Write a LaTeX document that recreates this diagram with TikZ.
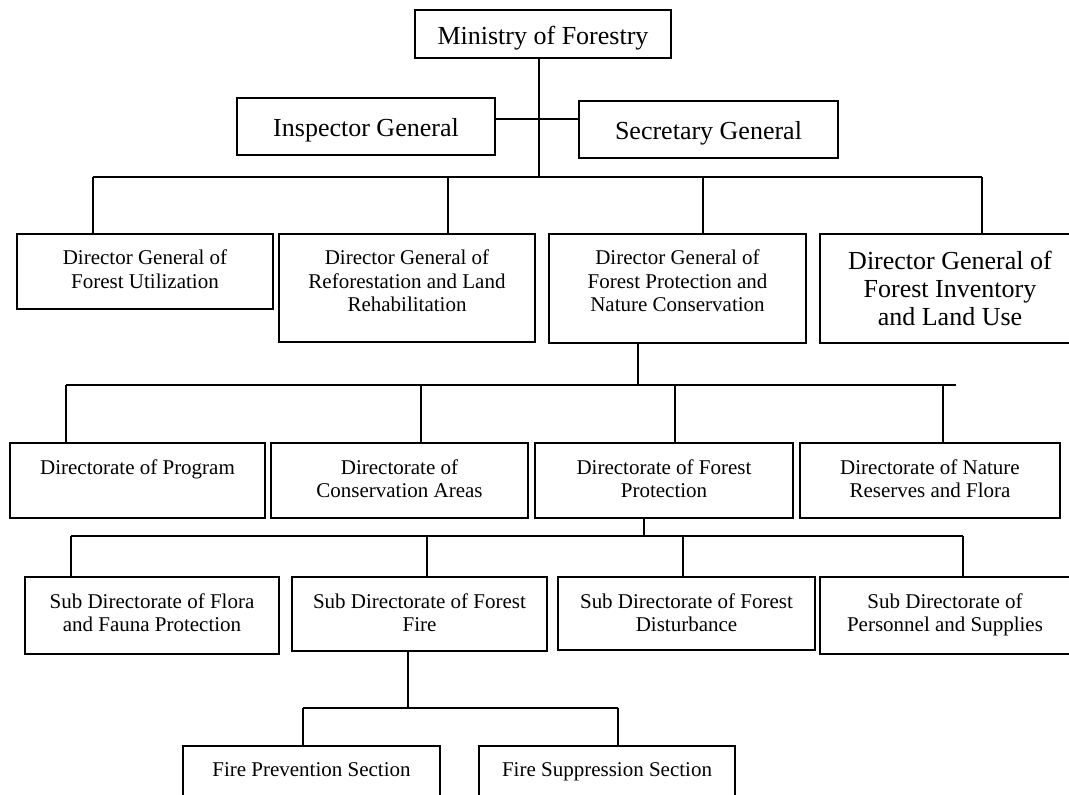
\documentclass[tikz,border=0pt]{standalone}
\usepackage{fontspec}
\setmainfont{Liberation Serif}
\newcommand\boxtext[4]{\parbox[b][#2][t]{#1}{\centering\vspace*{#3}#4\par}}
\tikzset{
  orgbox/.style={draw, line width=1.9pt, inner sep=0pt, outer sep=0pt, anchor=north west},
  smalltxt/.style={font=\fontsize{21}{23.5}\selectfont},
  bigtxt/.style={font=\fontsize{26}{28}\selectfont},
  conn/.style={line width=1.9pt},
}
\begin{document}
\begin{tikzpicture}[x=1pt,y=-1pt]
\fill[white] (0,0) rectangle (1069,795);
\useasboundingbox (0,0) rectangle (1069,795);
\clip (0,0) rectangle (1069,795);
% level 1
\node[orgbox, bigtxt] (min) at (415,10) {\boxtext{256pt}{48pt}{16.5pt}{Ministry of Forestry}};
\node[orgbox, bigtxt] (ig) at (237,98) {\boxtext{258pt}{57pt}{20pt}{Inspector General}};
\node[orgbox, bigtxt] (sg) at (579,101) {\boxtext{259pt}{57pt}{20.5pt}{Secretary General}};
% level 2
\node[orgbox, smalltxt] (dgfu) at (17,234) {\boxtext{256pt}{75pt}{16pt}{Director General of\\Forest Utilization}};
\node[orgbox, smalltxt] (dgrl) at (279,234) {\boxtext{256pt}{108pt}{16pt}{Director General of\\Reforestation and Land\\Rehabilitation}};
\node[orgbox, smalltxt] (dgfp) at (549,234) {\boxtext{257pt}{109pt}{16pt}{Director General of\\Forest Protection and\\Nature Conservation}};
\node[orgbox, bigtxt] (dgfi) at (820,234) {\boxtext{260pt}{109pt}{17pt}{Director General of\\Forest Inventory\\and Land Use}};
% level 3
\node[orgbox, smalltxt] (dp) at (10,443) {\boxtext{255pt}{75pt}{16.5pt}{Directorate of Program}};
\node[orgbox, smalltxt] (dca) at (271,443) {\boxtext{257pt}{75pt}{16.5pt}{Directorate of\\Conservation Areas}};
\node[orgbox, smalltxt] (dfp) at (535,443) {\boxtext{258pt}{75pt}{16.5pt}{Directorate of Forest\\Protection}};
\node[orgbox, smalltxt] (dnr) at (800,443) {\boxtext{260pt}{75pt}{16.5pt}{Directorate of Nature\\Reserves and Flora}};
% level 4
\node[orgbox, smalltxt] (sff) at (25,577) {\boxtext{254pt}{77pt}{16.5pt}{Sub Directorate of Flora\\and Fauna Protection}};
\node[orgbox, smalltxt] (sfire) at (292,577) {\boxtext{255pt}{74pt}{16.5pt}{Sub Directorate of Forest\\Fire}};
\node[orgbox, smalltxt] (sdist) at (558,577) {\boxtext{257pt}{73pt}{16.5pt}{Sub Directorate of Forest\\Disturbance}};
\node[orgbox, smalltxt] (spers) at (820,577) {\boxtext{250pt}{77pt}{16.5pt}{Sub Directorate of\\Personnel and Supplies}};
% level 5
\node[orgbox, smalltxt] (fp) at (183,746) {\boxtext{257pt}{60pt}{17pt}{Fire Prevention Section}};
\node[orgbox, smalltxt] (fs) at (479,746) {\boxtext{256pt}{60pt}{17pt}{Fire Suppression Section}};
% connectors level 1-2
\coordinate (j0) at (539,177);
\coordinate (h) at (539,119);
\coordinate (b1) at (93,177);
\coordinate (b2) at (448,177);
\coordinate (b3) at (703,177);
\coordinate (b4) at (982,177);
\draw[conn] (min.south -| j0) -- (j0);
\draw[conn] (ig.east |- h) -- (sg.west |- h);
\draw[conn] (b1) -- (b4);
\draw[conn] (b1) -- (b1 |- dgfu.north);
\draw[conn] (b2) -- (b2 |- dgrl.north);
\draw[conn] (b3) -- (b3 |- dgfp.north);
\draw[conn] (b4) -- (b4 |- dgfi.north);
% level 2-3
\coordinate (c0) at (638,385);
\coordinate (c1) at (66,385);
\coordinate (c2) at (421,385);
\coordinate (c3) at (675,385);
\coordinate (c4) at (943,385);
\coordinate (c5) at (956,385);
\draw[conn] (c0 |- dgfp.south) -- (c0);
\draw[conn] (c1) -- (c5);
\draw[conn] (c1) -- (c1 |- dp.north);
\draw[conn] (c2) -- (c2 |- dca.north);
\draw[conn] (c3) -- (c3 |- dfp.north);
\draw[conn] (c4) -- (c4 |- dnr.north);
% level 3-4
\coordinate (d0) at (644,536);
\coordinate (d1) at (71,536);
\coordinate (d2) at (427,536);
\coordinate (d3) at (683,536);
\coordinate (d4) at (963,536);
\draw[conn] (d0 |- dfp.south) -- (d0);
\draw[conn] (d1) -- (d4);
\draw[conn] (d1) -- (d1 |- sff.north);
\draw[conn] (d2) -- (d2 |- sfire.north);
\draw[conn] (d3) -- (d3 |- sdist.north);
\draw[conn] (d4) -- (d4 |- spers.north);
% level 4-5
\coordinate (e0) at (408,708);
\coordinate (e1) at (303,708);
\coordinate (e2) at (618,708);
\draw[conn] (e0 |- sfire.south) -- (e0);
\draw[conn] (e1) -- (e2);
\draw[conn] (e1) -- (e1 |- fp.north);
\draw[conn] (e2) -- (e2 |- fs.north);
\end{tikzpicture}
\end{document}
